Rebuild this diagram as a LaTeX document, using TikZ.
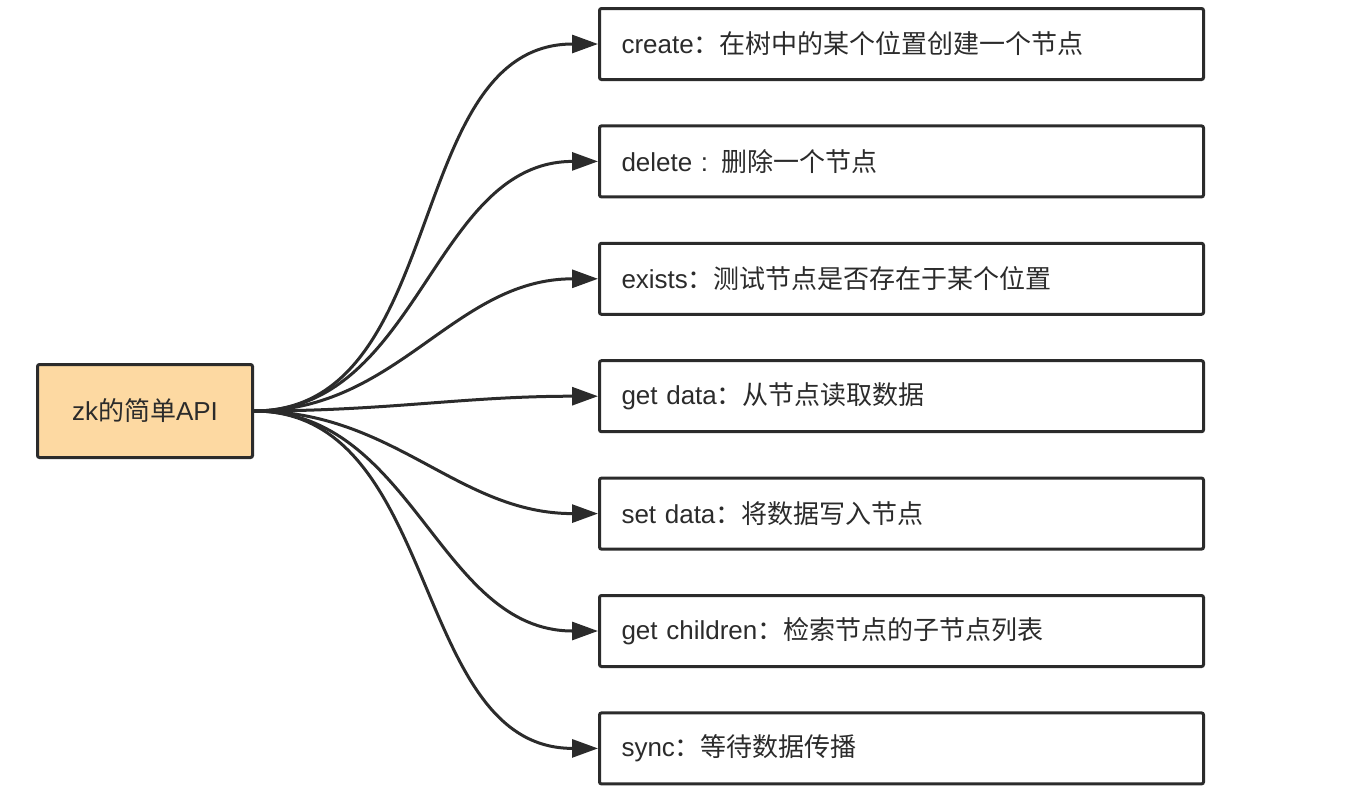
\documentclass[tikz,border=0pt]{standalone}
\usepackage{fontspec}
\setmainfont{Liberation Sans}
\newfontfamily\cjk{Noto Sans CJK SC}
\usepackage{tikz}
\usetikzlibrary{positioning,arrows.meta}
\definecolor{LineGray}{HTML}{2B2B2B}
\definecolor{RootOrange}{HTML}{FDD9A2}

\begin{document}
\begin{tikzpicture}[>={Triangle[length=13pt,width=9pt]},
                    every node/.style={draw=LineGray, line width=1.5pt, rounded corners=1pt,
                                       text=LineGray, font=\fontsize{13}{16}\selectfont},
                    item/.style={text width=280pt, inner xsep=11pt, inner ysep=0pt,
                                 minimum height=35.5pt, align=left},
                    every path/.style={line width=1.5pt}]
\useasboundingbox (0pt,0pt) rectangle (677pt,-402pt);
\node[fill=RootOrange, minimum width=107.5pt, minimum height=46.5pt, inner sep=0pt]
     (api) at (72.5pt,-205.5pt) {zk\cjk 的简单\rmfamily API};
\node[item, anchor=west] (create) at (299pt,-22pt) {create\cjk ：在树中的某个位置创建一个节点};
\node[item, below=21.7pt of create] (delete) {delete : \cjk 删除一个节点};
\node[item, below=21.7pt of delete] (exists) {exists\cjk ：测试节点是否存在于某个位置};
\node[item, below=21.7pt of exists] (getdata) {get data\cjk ：从节点读取数据};
\node[item, below=21.7pt of getdata] (setdata) {set data\cjk ：将数据写入节点};
\node[item, below=21.7pt of setdata] (children) {get children\cjk ：检索节点的子节点列表};
\node[item, below=21.7pt of children] (sync) {sync\cjk ：等待数据传播};
\draw[LineGray, ->] (api.east) to[out=0, in=180] (create.west);
\draw[LineGray, ->] (api.east) to[out=0, in=180] (delete.west);
\draw[LineGray, ->] (api.east) to[out=0, in=180] (exists.west);
\draw[LineGray, ->] (api.east) to[out=0, in=180] (getdata.west);
\draw[LineGray, ->] (api.east) to[out=0, in=180] (setdata.west);
\draw[LineGray, ->] (api.east) to[out=0, in=180] (children.west);
\draw[LineGray, ->] (api.east) to[out=0, in=180] (sync.west);
\end{tikzpicture}
\end{document}
